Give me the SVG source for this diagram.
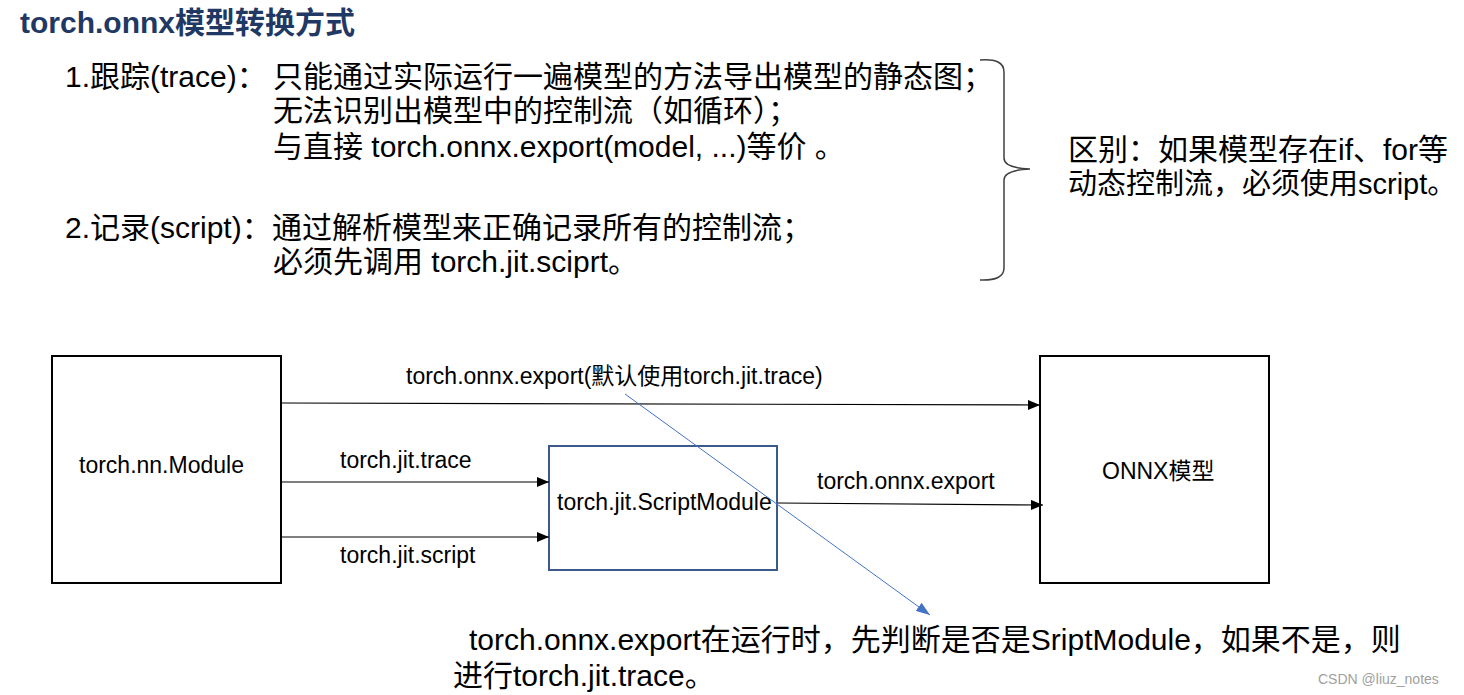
<svg xmlns="http://www.w3.org/2000/svg" width="1464" height="695" viewBox="0 0 1464 695">
<defs>
<style>
.t{font-family:"Liberation Sans","Noto Sans CJK SC",sans-serif;fill:#000}
.big{font-size:30px}
.mid{font-size:23px}
.title{font-family:"Liberation Sans","Noto Sans CJK SC",sans-serif;font-size:30px;font-weight:bold;fill:#1f3864}
.box{fill:#fff;stroke:#000;stroke-width:2}
.sbox{fill:#fff;stroke:#3c5a8c;stroke-width:2}
.conn{fill:none;stroke:#000;stroke-width:1.2}
.blue{fill:none;stroke:#4472c4;stroke-width:1}
.brace{fill:none;stroke:#404040;stroke-width:1.5}
.wm{font-family:"Liberation Sans",sans-serif;font-size:14px;fill:#a0a0a0}
</style>
<marker id="ah" viewBox="0 0 12 10" refX="12" refY="5" markerWidth="12" markerHeight="10" markerUnits="userSpaceOnUse" orient="auto">
<path d="M0,0 L12,5 L0,10 Z" fill="#000"/>
</marker>
<marker id="ahb" viewBox="0 0 14 10" refX="14" refY="5" markerWidth="14" markerHeight="10" markerUnits="userSpaceOnUse" orient="auto">
<path d="M0,0 L14,5 L0,10 Z" fill="#4472c4"/>
</marker>
</defs>
<rect width="1464" height="695" fill="#fff"/>

<g id="title">
<text class="title" x="20" y="33">torch.onnx模型转换方式</text>
</g>

<g id="notes">
<text class="t big" y="87"><tspan x="65">1.跟踪(trace)：</tspan><tspan x="273">只能通过实际运行一遍模型的方法导出模型的静态图；</tspan></text>
<text class="t big" x="273" y="121">无法识别出模型中的控制流（如循环）；</text>
<text class="t big" x="273" y="157">与直接 torch.onnx.export(model, ...)等价 。</text>
<text class="t big" y="238"><tspan x="65">2.记录(script)：</tspan><tspan x="272">通过解析模型来正确记录所有的控制流；</tspan></text>
<text class="t big" x="273" y="272">必须先调用 torch.jit.sciprt。</text>
</g>

<g id="brace">
<path class="brace" d="M980,60 Q1004,58 1004,72 L1004,158 Q1004,168 1030,169 Q1004,170 1004,180 L1004,268 Q1004,281 980,280"/>
</g>

<g id="difference">
<text class="t big" x="1068" y="160">区别：如果模型存在if、for等</text>
<text class="t" style="font-size:29px" x="1068" y="194">动态控制流，必须使用script。</text>
</g>

<g id="nn_module">
<rect class="box" x="52" y="356" width="229" height="227"/>
<text class="t mid" x="79" y="473">torch.nn.Module</text>
</g>

<g id="script_module">
<rect class="sbox" x="549" y="446" width="228" height="124"/>
<text class="t mid" x="557" y="510">torch.jit.ScriptModule</text>
</g>

<g id="onnx_model">
<rect class="box" x="1040" y="356" width="229" height="227"/>
<text class="t mid" x="1102" y="479">ONNX模型</text>
</g>

<g id="connectors">
<line class="conn" x1="282" y1="403" x2="1040" y2="405" marker-end="url(#ah)"/>
<line class="conn" x1="282" y1="482" x2="549" y2="482" marker-end="url(#ah)"/>
<line class="conn" x1="282" y1="537" x2="549" y2="537" marker-end="url(#ah)"/>
<line class="conn" x1="778" y1="503" x2="1043" y2="505" marker-end="url(#ah)"/>
<line class="blue" x1="625" y1="394" x2="930" y2="615" marker-end="url(#ahb)"/>
<text class="t mid" x="406" y="384">torch.onnx.export(默认使用torch.jit.trace)</text>
<text class="t mid" x="340" y="468">torch.jit.trace</text>
<text class="t mid" x="340" y="563">torch.jit.script</text>
<text class="t mid" x="817" y="489">torch.onnx.export</text>
</g>

<g id="note_bottom">
<text class="t big" x="469" y="650">torch.onnx.export在运行时，先判断是否是SriptModule，如果不是，则</text>
<text class="t big" x="453" y="686">进行torch.jit.trace。</text>
</g>

<text class="wm" x="1318" y="684">CSDN @liuz_notes</text>
</svg>
